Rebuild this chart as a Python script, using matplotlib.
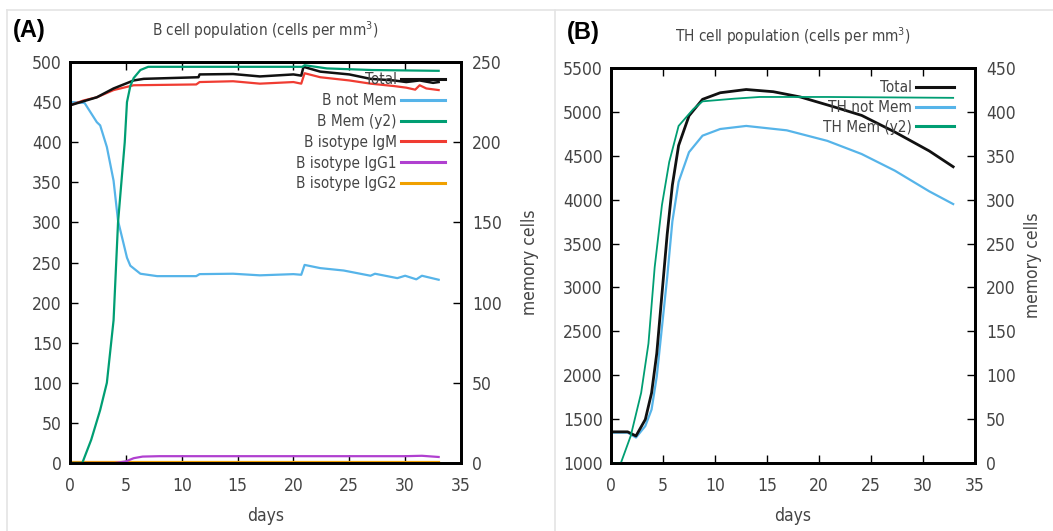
import os
import matplotlib
matplotlib.use('Agg')
import matplotlib.pyplot as plt
from matplotlib import font_manager as fm
from matplotlib.lines import Line2D

# gnuplot-like narrow font if one is installed
narrow = [f for f in fm.fontManager.ttflist
          if ('Condensed' in os.path.basename(f.fname) or 'Narrow' in os.path.basename(f.fname))
          and 'Bold' not in os.path.basename(f.fname) and 'Oblique' not in os.path.basename(f.fname)
          and 'Italic' not in os.path.basename(f.fname)]
if narrow:
    plt.rcParams['font.family'] = [narrow[0].name, 'DejaVu Sans']
    plt.rcParams['font.stretch'] = narrow[0].stretch
    FS, FS_SMALL = 12.5, 11
else:
    plt.rcParams['font.family'] = ['Liberation Sans', 'DejaVu Sans']
    FS, FS_SMALL = 12, 10.5

# ---- panel A: B cell population ----
a_total_x = [0, 1.2, 2.4, 3.9, 5.7, 6.6, 11.5, 11.6, 14.6, 17, 20, 20.7, 20.9, 22.4, 25, 26.9, 29, 30.1, 31.3, 32.5, 33]
a_total_y = [446, 451, 456, 467, 477, 479, 481, 484.5, 485, 482, 484.5, 483, 494, 488, 484.5, 479, 477, 475, 477, 474, 475]

a_igm_x = [0, 1.2, 2.4, 3.9, 5.7, 11.3, 11.6, 14.6, 17, 20, 20.7, 21, 22.4, 25, 26.9, 29, 30.1, 30.9, 31.3, 31.9, 33]
a_igm_y = [446, 452, 456, 465, 471, 472, 475, 476, 473, 475, 473, 486, 481, 477, 473, 470, 468, 465.5, 471, 467, 465]

a_notmem_x = [0, 1.3, 2.4, 2.7, 3.3, 3.9, 4.3, 5.1, 5.4, 6.3, 7.8, 11.3, 11.6, 14.6, 17, 20, 20.7, 21, 22.4, 24.5,
              26.9, 27.3, 29.3, 30, 31, 31.5, 33]
a_notmem_y = [450, 449, 425, 421, 394, 352, 302, 256, 246, 236, 233, 233, 235.5, 236, 234, 235.5, 234.7, 247, 243, 240,
              233.5, 236, 230.5, 233.5, 229, 233.5, 228.5]

a_mem_x = [0, 1.1, 1.9, 2.7, 3.3, 3.9, 4.3, 4.6, 4.9, 5.1, 5.4, 5.7, 6.3, 7, 7.8, 20.8, 21, 23, 27, 33]
a_mem_y = [0, 0, 14.5, 33, 50, 89, 150, 175, 200, 225, 235, 240, 245, 247, 247, 247, 248, 246, 245, 244.5]

a_igg1_x = [0, 4.0, 5.0, 5.7, 6.5, 8, 30, 31.5, 33]
a_igg1_y = [0, 0, 2, 6, 8, 8.5, 8.5, 9, 7.5]

a_igg2_x = [0, 33]
a_igg2_y = [1.5, 1.5]

# ---- panel B: TH cell population ----
b_total_x = [0, 1.6, 2.4, 3.3, 3.9, 4.4, 4.9, 5.4, 5.9, 6.5, 7.5, 8.8, 10.5, 13, 15.6, 18.2, 21.5, 24.1, 27.3, 30.6, 32.9]
b_total_y = [1355, 1355, 1308, 1496, 1797, 2248, 2925, 3602, 4165, 4617, 4955, 5143, 5218, 5255, 5230, 5170, 5055,
             4960, 4770, 4555, 4375]

b_notmem_x = [0, 1.6, 2.4, 3.3, 3.9, 4.4, 4.9, 5.4, 5.9, 6.5, 7.5, 8.8, 10.5, 13, 16.9, 20.8, 24.1, 27.3, 30.6, 32.9]
b_notmem_y = [1346, 1346, 1290, 1421, 1609, 1985, 2549, 3113, 3752, 4203, 4541, 4729, 4805, 4840, 4790, 4670, 4520,
              4330, 4095, 3950]

b_mem_x = [0, 0.95, 1.9, 2.9, 3.6, 4.2, 4.9, 5.6, 6.5, 7.9, 8.8, 11.8, 14.3, 20.8, 32.9]
b_mem_y = [0, 0, 31, 80, 136, 223, 294, 343, 384, 403, 412, 415, 417, 417, 416]

BLACK = '#111111'
BLUE = '#56b4e9'
GREEN = '#009e73'
RED = '#f03c32'
PURPLE = '#b040d0'
ORANGE = '#f0a000'
TXT = '#444444'

W, H = 1053, 531
fig = plt.figure(figsize=(W / 100, H / 100), dpi=100)


def px_axes(l, t, r, b):
    return fig.add_axes([l / W, 1 - b / H, (r - l) / W, (b - t) / H])


def style(ax, ax2, xt, yt, y2t, y2pad):
    for a in (ax, ax2):
        for s in a.spines.values():
            s.set_linewidth(2)
            s.set_color('black')
    ax.set_xlim(0, 35)
    ax.set_xticks(xt)
    ax.set_yticks(yt)
    ax2.set_yticks(y2t)
    ax.tick_params(axis='both', direction='in', length=6, width=1, labelsize=FS, labelcolor=TXT,
                   top=True, right=False, pad=6)
    ax.tick_params(axis='x', pad=10)
    ax2.tick_params(axis='y', direction='in', length=6, width=1, labelsize=FS, labelcolor=TXT, pad=8)
    ax.set_xlabel('days', fontsize=FS, color=TXT, labelpad=9)
    ax2.set_ylabel('memory cells', fontsize=FS, color=TXT, labelpad=y2pad)


def legend(ax, handles, labels, anchor, hlen, spacing):
    leg = ax.legend(handles, labels, loc='upper right', bbox_to_anchor=anchor, frameon=False,
                    markerfirst=False, fontsize=FS_SMALL, handlelength=hlen, handletextpad=0.25,
                    labelspacing=spacing, borderaxespad=0)
    for t in leg.get_texts():
        t.set_color(TXT)


# panel A
axA = px_axes(70, 62, 461, 463)
axA2 = axA.twinx()
axA.set_ylim(0, 500)
axA2.set_ylim(0, 250)
axA.plot(a_igg2_x, a_igg2_y, color=ORANGE, lw=1.6)
axA.plot(a_igg1_x, a_igg1_y, color=PURPLE, lw=1.6)
axA.plot(a_notmem_x, a_notmem_y, color=BLUE, lw=1.6)
axA.plot(a_igm_x, a_igm_y, color=RED, lw=1.6)
axA2.plot(a_mem_x, a_mem_y, color=GREEN, lw=1.6)
axA.plot(a_total_x, a_total_y, color=BLACK, lw=1.8)
style(axA, axA2, range(0, 36, 5), range(0, 501, 50), range(0, 251, 50), 13.5)
axA.set_title('B cell population (cells per mm$^3$)', fontsize=FS_SMALL, color=TXT, pad=19)

handlesA = [Line2D([], [], color=c, lw=2.2) for c in (BLACK, BLUE, GREEN, RED, PURPLE, ORANGE)]
labelsA = ['Total', 'B not Mem', 'B Mem (y2)', 'B isotype IgM', 'B isotype IgG1', 'B isotype IgG2']
legend(axA2, handlesA, labelsA, (0.975, 0.9895), 2.9, 0.38)

# panel B
axB = px_axes(611, 68, 975, 463)
axB2 = axB.twinx()
axB.set_ylim(1000, 5500)
axB2.set_ylim(0, 450)
axB.plot(b_notmem_x, b_notmem_y, color=BLUE, lw=1.6)
axB2.plot(b_mem_x, b_mem_y, color=GREEN, lw=1.3)
axB.plot(b_total_x, b_total_y, color=BLACK, lw=2.0)
style(axB, axB2, range(0, 36, 5), range(1000, 5501, 500), range(0, 451, 50), 6)
axB.set_title('TH cell population (cells per mm$^3$)', fontsize=FS_SMALL, color=TXT, pad=19)

handlesB = [Line2D([], [], color=c, lw=2.2) for c in (BLACK, BLUE, GREEN)]
labelsB = ['Total', 'TH not Mem', 'TH Mem (y2)']
legend(axB2, handlesB, labelsB, (0.959, 0.985), 2.5, 0.32)

# panel letters and frame lines
fig.text(13 / W, 1 - 30 / H, '(A)', fontsize=17, fontweight='bold', family='Liberation Sans', va='center')
fig.text(567 / W, 1 - 32 / H, '(B)', fontsize=17, fontweight='bold', family='Liberation Sans', va='center')
fig.add_artist(Line2D([555 / W, 555 / W], [0, 1 - 10 / H], color='#e4e4e4', lw=1.2))
fig.add_artist(Line2D([7 / W, 7 / W], [0, 1 - 10 / H], color='#e4e4e4', lw=1.2))
fig.add_artist(Line2D([7 / W, 1], [1 - 10 / H, 1 - 10 / H], color='#e4e4e4', lw=1.2))

fig.savefig('out.png', dpi=100)
